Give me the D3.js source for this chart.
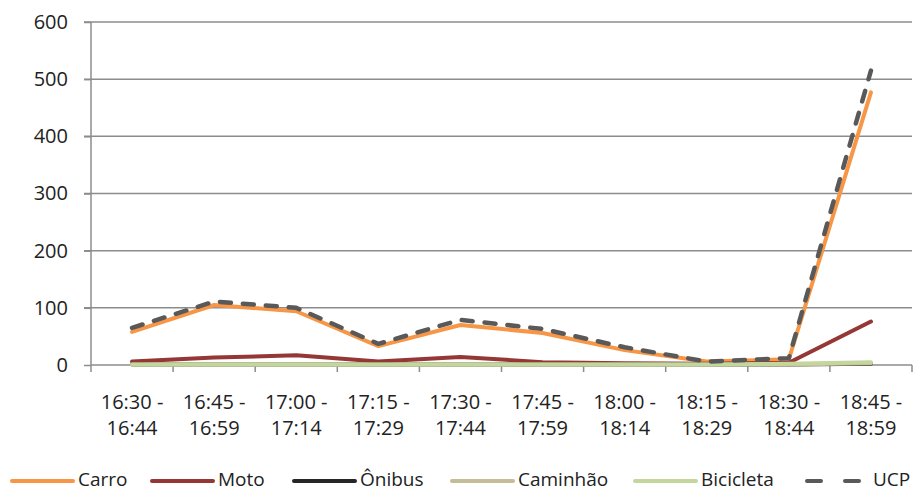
<!DOCTYPE html>
<html><head><meta charset="utf-8">
<script src="https://cdn.jsdelivr.net/npm/d3@7"></script>
<style>body{margin:0;background:#fff;}svg{display:block;font-family:"Open Sans",sans-serif;}</style>
</head><body>
<svg id="c" width="914" height="493"></svg>
<script>
const categories = ["16:30 - 16:44","16:45 - 16:59","17:00 - 17:14","17:15 - 17:29","17:30 - 17:44","17:45 - 17:59","18:00 - 18:14","18:15 - 18:29","18:30 - 18:44","18:45 - 18:59"];
const carro     = [58, 105, 94, 33, 70, 56, 26, 6, 10, 477];
const moto      = [6, 13, 17, 6, 14, 5, 3, 2, 4, 76];
const onibus    = [1, 1, 1, 1, 1, 1, 1, 1, 1, 2];
const caminhao  = [1, 1, 1, 1, 1, 1, 1, 1, 1, 3];
const bicicleta = [1, 1, 1, 1, 1, 1, 1, 1, 2, 5];
const ucp       = [65, 111, 100, 37, 79, 63, 31, 6, 12, 515];
const yTicks = [0, 100, 200, 300, 400, 500, 600];
const seriesNames = ["Carro","Moto","Ônibus","Caminhão","Bicicleta","UCP"];
const seriesColors = ["#F79646","#953735","#262626","#C4BD97","#C3D69B","#595959"];

const series = [carro, moto, onibus, caminhao, bicicleta, ucp];
const svg = d3.select("#c");
const L = 91, R = 912, T = 22, B = 365;
const x = d3.scaleBand().domain(categories).range([L, R]);
const y = d3.scaleLinear().domain([0, 600]).range([B, T]);
const grid = "#8c8c8c";

// gridlines
svg.append("g").selectAll("line").data(yTicks.filter(d => d > 0)).join("line")
  .attr("x1", L - 7).attr("x2", R).attr("y1", d => y(d)).attr("y2", d => y(d))
  .attr("stroke", grid).attr("stroke-width", 1.5);

// y axis
const ya = svg.append("g").attr("transform", `translate(${L},0)`)
  .call(d3.axisLeft(y).tickValues(yTicks).tickSize(7).tickPadding(16));
ya.select(".domain").attr("stroke", grid).attr("stroke-width", 1.5).attr("d", `M0,${B}V${T}`);
ya.selectAll(".tick line").attr("stroke", grid).attr("stroke-width", 1.5);
ya.selectAll(".tick text").attr("font-size", 20).attr("fill", "#222").attr("font-family", "Open Sans");

// x axis
const xa = svg.append("g").attr("transform", `translate(0,${B})`)
  .call(d3.axisBottom(x).tickSize(0).tickFormat(""));
xa.select(".domain").attr("stroke", grid).attr("stroke-width", 1.5).attr("d", `M${L},0H${R}`);
const bounds = categories.map(c => x(c)).concat([R]);
svg.append("g").selectAll("line").data(bounds).join("line")
  .attr("x1", d => d).attr("x2", d => d).attr("y1", B).attr("y2", B + 7)
  .attr("stroke", grid).attr("stroke-width", 1.5);
const lab = svg.append("g").selectAll("text").data(categories).join("text")
  .attr("x", d => x(d) + x.bandwidth() / 2).attr("text-anchor", "middle")
  .attr("font-size", 20).attr("fill", "#222");
lab.append("tspan").attr("x", d => x(d) + x.bandwidth() / 2).attr("y", 409).text(d => d.split(" - ")[0] + " -");
lab.append("tspan").attr("x", d => x(d) + x.bandwidth() / 2).attr("y", 435).text(d => d.split(" - ")[1]);

// lines (series order, last on top)
const line = d3.line().x((d, i) => x(categories[i]) + x.bandwidth() / 2).y(d => y(d));
series.forEach((s, si) => {
  const p = svg.append("path").datum(s).attr("d", line)
    .attr("fill", "none").attr("stroke", seriesColors[si]).attr("stroke-width", 4)
    .attr("stroke-linejoin", "round").attr("stroke-linecap", "round");
  if (si === 5) p.attr("stroke-dasharray", "11,12").attr("stroke-width", 4.5);
});

// legend
const legX = [10, 150, 292, 450, 633, 805];
const lg = svg.append("g");
seriesNames.forEach((n, i) => {
  const l = lg.append("line").attr("x1", legX[i] + 2).attr("x2", legX[i] + 63)
    .attr("y1", 481).attr("y2", 481).attr("stroke", seriesColors[i])
    .attr("stroke-width", 4).attr("stroke-linecap", "round");
  if (i === 5) l.attr("stroke-dasharray", "14,24");
  lg.append("text").attr("x", legX[i] + 68).attr("y", 486).attr("font-size", 19)
    .attr("fill", "#222").text(n);
});
</script>
</body></html>
